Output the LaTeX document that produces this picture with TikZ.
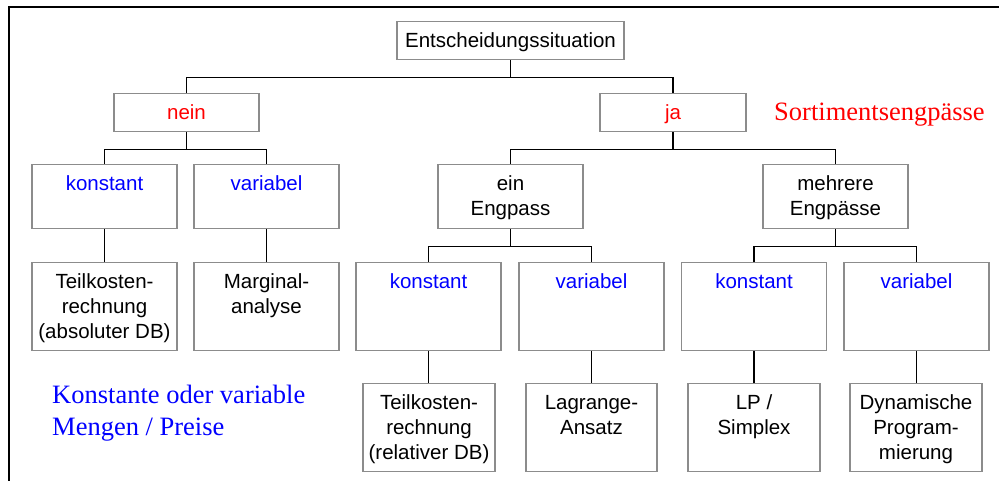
\documentclass[tikz,border=0pt]{standalone}
\usepackage{fontspec}
\setmainfont{Liberation Sans}
\newfontfamily\serifann{Liberation Serif}
\definecolor{boxgray}{gray}{0.55}
\newcommand\boxtext[3]{\parbox[c][#2pt][t]{#1pt}{\centering\fontsize{20.5}{25}\selectfont\rule{0pt}{26pt}#3}}
\begin{document}
\begin{tikzpicture}[x=1pt,y=-1pt,
  bx/.style={draw=boxgray, line width=1.3pt, inner sep=0pt, anchor=north, fill=white},
  conn/.style={draw=black, line width=1.2pt},
  ann/.style={anchor=base west, inner sep=0pt}]
\useasboundingbox (0,0) rectangle (999,480);
\draw[line width=2pt] (999,7) -- (9,7) -- (9,481);

% boxes
\node[bx] (top) at (510.5,21) {\boxtext{227}{38}{Entscheidungssituation}};
\node[bx] (nein) at (186.5,93) {\boxtext{145}{38}{\color{red}nein}};
\node[bx] (ja) at (673,93) {\boxtext{146}{38}{\color{red}ja}};

\node[bx] (k1) at (104.5,164) {\boxtext{145}{64}{\color{blue}konstant}};
\node[bx] (v1) at (266.5,164) {\boxtext{145}{64}{\color{blue}variabel}};
\node[bx] (ein) at (510.5,164) {\boxtext{145}{64}{ein\\Engpass}};
\node[bx] (meh) at (835.5,164) {\boxtext{145}{64}{mehrere\\Engpässe}};

\node[bx] (t1) at (104.5,262) {\boxtext{145}{88}{Teilkosten-\\rechnung\\(absoluter DB)}};
\node[bx] (m1) at (266.5,262) {\boxtext{145}{88}{Marginal-\\analyse}};
\node[bx] (k2) at (428.5,262) {\boxtext{145}{88}{\color{blue}konstant}};
\node[bx] (v2) at (591.5,262) {\boxtext{145}{88}{\color{blue}variabel}};
\node[bx] (k3) at (754,262) {\boxtext{145}{88}{\color{blue}konstant}};
\node[bx] (v3) at (916.5,262) {\boxtext{145}{88}{\color{blue}variabel}};

\node[bx] (t2) at (429,383) {\boxtext{132}{88}{Teilkosten-\\rechnung\\(relativer DB)}};
\node[bx] (l2) at (591.5,383) {\boxtext{131}{88}{Lagrange-\\Ansatz}};
\node[bx] (lp) at (754,383) {\boxtext{132}{88}{LP /\\Simplex}};
\node[bx] (dp) at (916,383) {\boxtext{132}{88}{Dynamische\\Program-\\mierung}};

% connectors
\draw[conn] (top.south) -- ++(0,17) -| (nein.north);
\draw[conn] (top.south) ++(0,17) -| (ja.north);
\draw[conn] (nein.south) -- ++(0,17) -| (k1.north);
\draw[conn] (nein.south) ++(0,17) -| (v1.north);
\draw[conn] (ja.south) -- ++(0,17) -| (ein.north);
\draw[conn] (ja.south) ++(0,17) -| (meh.north);
\draw[conn] (ein.south) -- ++(0,17) -| (k2.north);
\draw[conn] (ein.south) ++(0,17) -| (v2.north);
\draw[conn] (meh.south) -- ++(0,17) -| (k3.north);
\draw[conn] (meh.south) ++(0,17) -| (v3.north);
\draw[conn] (k1.south) -- (k1.south |- t1.north);
\draw[conn] (v1.south) -- (v1.south |- m1.north);
\draw[conn] (k2.south) -- (k2.south |- t2.north);
\draw[conn] (v2.south) -- (v2.south |- l2.north);
\draw[conn] (k3.south) -- (k3.south |- lp.north);
\draw[conn] (v3.south) -- (v3.south |- dp.north);

% annotations
\node[ann, text=red, font=\serifann\fontsize{26.5}{32}\selectfont] (sort) at (774,120.5) {Sortimentsengpässe};
\node[ann, text=blue] (kov) at (52,403) {\parbox[t]{300pt}{\raggedright\serifann\fontsize{26.5}{32}\selectfont Konstante oder variable\\Mengen / Preise}};
\end{tikzpicture}
\end{document}
